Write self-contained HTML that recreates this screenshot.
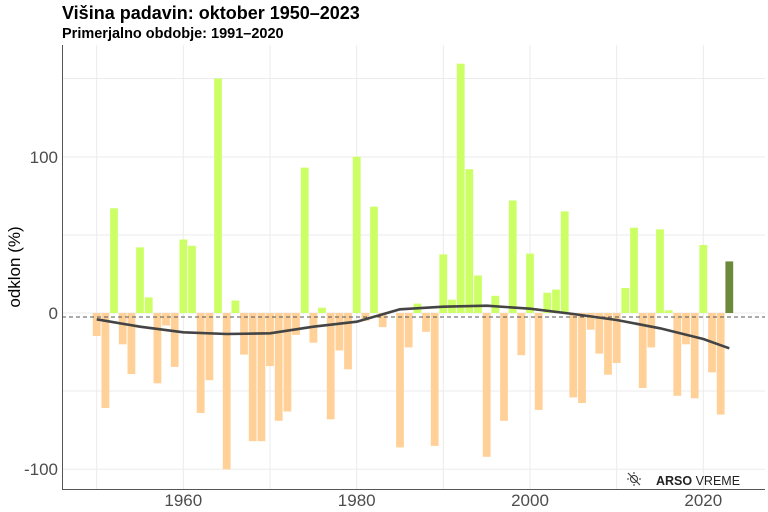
<!DOCTYPE html>
<html><head><meta charset="utf-8"><style>
body{margin:0;background:#fff;}
svg{display:block;font-family:"Liberation Sans",sans-serif;}
.p{fill:#ccff66}.n{fill:#ffd199}
</style></head><body>
<svg width="768" height="512" viewBox="0 0 768 512" xmlns="http://www.w3.org/2000/svg">
<rect width="768" height="512" fill="#fff"/>
<text x="62" y="19" font-size="18" font-weight="bold" fill="#000">Višina padavin: oktober 1950–2023</text>
<text x="62" y="38" font-size="14.5" font-weight="bold" fill="#000">Primerjalno obdobje: 1991–2020</text>
<g stroke="#ebebeb" stroke-width="1">
<line x1="62" x2="765" y1="78.5" y2="78.5"/>
<line x1="62" x2="765" y1="235" y2="235"/>
<line x1="62" x2="765" y1="391" y2="391"/>
<line x1="62" x2="765" y1="157" y2="157"/>
<line x1="62" x2="765" y1="313" y2="313"/>
<line x1="62" x2="765" y1="469.3" y2="469.3"/>
<line x1="96.7" x2="96.7" y1="45" y2="489"/>
<line x1="183.3" x2="183.3" y1="45" y2="489"/>
<line x1="270" x2="270" y1="45" y2="489"/>
<line x1="356.7" x2="356.7" y1="45" y2="489"/>
<line x1="443.3" x2="443.3" y1="45" y2="489"/>
<line x1="530" x2="530" y1="45" y2="489"/>
<line x1="616.7" x2="616.7" y1="45" y2="489"/>
<line x1="703.3" x2="703.3" y1="45" y2="489"/>
</g>
<g>
<rect class="n" x="92.8" y="313" width="7.8" height="23"/>
<rect class="n" x="101.5" y="313" width="7.8" height="95"/>
<rect class="p" x="110.1" y="208.3" width="7.8" height="104.7"/>
<rect class="n" x="118.8" y="313" width="7.8" height="31.3"/>
<rect class="n" x="127.5" y="313" width="7.8" height="61"/>
<rect class="p" x="136.1" y="247.4" width="7.8" height="65.6"/>
<rect class="p" x="144.8" y="297.4" width="7.8" height="15.6"/>
<rect class="n" x="153.5" y="313" width="7.8" height="70.3"/>
<rect class="n" x="162.1" y="313" width="7.8" height="12.5"/>
<rect class="n" x="170.8" y="313" width="7.8" height="53.9"/>
<rect class="p" x="179.5" y="239.5" width="7.8" height="73.5"/>
<rect class="p" x="188.1" y="245.8" width="7.8" height="67.2"/>
<rect class="n" x="196.8" y="313" width="7.8" height="100"/>
<rect class="n" x="205.5" y="313" width="7.8" height="67.2"/>
<rect class="p" x="214.1" y="78.5" width="7.8" height="234.5"/>
<rect class="n" x="222.8" y="313" width="7.8" height="156.3"/>
<rect class="p" x="231.5" y="300.5" width="7.8" height="12.5"/>
<rect class="n" x="240.1" y="313" width="7.8" height="41.6"/>
<rect class="n" x="248.8" y="313" width="7.8" height="128.2"/>
<rect class="n" x="257.5" y="313" width="7.8" height="128.2"/>
<rect class="n" x="266.1" y="313" width="7.8" height="53.1"/>
<rect class="n" x="274.8" y="313" width="7.8" height="107.8"/>
<rect class="n" x="283.5" y="313" width="7.8" height="98.5"/>
<rect class="n" x="292.1" y="313" width="7.8" height="21.9"/>
<rect class="p" x="300.8" y="167.6" width="7.8" height="145.4"/>
<rect class="n" x="309.5" y="313" width="7.8" height="29.7"/>
<rect class="p" x="318.1" y="307.7" width="7.8" height="5.3"/>
<rect class="n" x="326.8" y="313" width="7.8" height="106.3"/>
<rect class="n" x="335.5" y="313" width="7.8" height="37.5"/>
<rect class="n" x="344.1" y="313" width="7.8" height="56.3"/>
<rect class="p" x="352.8" y="156.7" width="7.8" height="156.3"/>
<rect class="n" x="361.5" y="313" width="7.8" height="7.8"/>
<rect class="p" x="370.1" y="206.7" width="7.8" height="106.3"/>
<rect class="n" x="378.8" y="313" width="7.8" height="14.1"/>
<rect class="n" x="396.1" y="313" width="7.8" height="134.4"/>
<rect class="n" x="404.8" y="313" width="7.8" height="34.4"/>
<rect class="p" x="413.5" y="303.6" width="7.8" height="9.4"/>
<rect class="n" x="422.1" y="313" width="7.8" height="18.8"/>
<rect class="n" x="430.8" y="313" width="7.8" height="132.9"/>
<rect class="p" x="439.4" y="254.4" width="7.8" height="58.6"/>
<rect class="p" x="448.1" y="299.7" width="7.8" height="13.3"/>
<rect class="p" x="456.8" y="63.7" width="7.8" height="249.3"/>
<rect class="p" x="465.4" y="169.2" width="7.8" height="143.8"/>
<rect class="p" x="474.1" y="275.5" width="7.8" height="37.5"/>
<rect class="n" x="482.8" y="313" width="7.8" height="143.8"/>
<rect class="p" x="491.4" y="295.8" width="7.8" height="17.2"/>
<rect class="n" x="500.1" y="313" width="7.8" height="107.8"/>
<rect class="p" x="508.8" y="200.5" width="7.8" height="112.5"/>
<rect class="n" x="517.4" y="313" width="7.8" height="42.2"/>
<rect class="p" x="526.1" y="253.6" width="7.8" height="59.4"/>
<rect class="n" x="534.8" y="313" width="7.8" height="96.9"/>
<rect class="p" x="543.4" y="292.7" width="7.8" height="20.3"/>
<rect class="p" x="552.1" y="289.6" width="7.8" height="23.4"/>
<rect class="p" x="560.8" y="211.4" width="7.8" height="101.6"/>
<rect class="n" x="569.4" y="313" width="7.8" height="84.4"/>
<rect class="n" x="578.1" y="313" width="7.8" height="90"/>
<rect class="n" x="586.8" y="313" width="7.8" height="16.7"/>
<rect class="n" x="595.4" y="313" width="7.8" height="40.6"/>
<rect class="n" x="604.1" y="313" width="7.8" height="61.7"/>
<rect class="n" x="612.8" y="313" width="7.8" height="50"/>
<rect class="p" x="621.4" y="288" width="7.8" height="25"/>
<rect class="p" x="630.1" y="227.7" width="7.8" height="85.3"/>
<rect class="n" x="638.8" y="313" width="7.8" height="75"/>
<rect class="n" x="647.4" y="313" width="7.8" height="34.4"/>
<rect class="p" x="656.1" y="229.4" width="7.8" height="83.6"/>
<rect class="p" x="664.8" y="310.3" width="7.8" height="2.7"/>
<rect class="n" x="673.4" y="313" width="7.8" height="82.8"/>
<rect class="n" x="682.1" y="313" width="7.8" height="31.3"/>
<rect class="n" x="690.8" y="313" width="7.8" height="85.3"/>
<rect class="p" x="699.4" y="245" width="7.8" height="68"/>
<rect class="n" x="708.1" y="313" width="7.8" height="59.4"/>
<rect class="n" x="716.8" y="313" width="7.8" height="101.6"/>
<rect x="725.4" y="261.4" width="7.8" height="51.6" fill="#6b8a3a"/>
</g>
<line x1="62" x2="765" y1="317" y2="317" stroke="#555" stroke-width="1" stroke-dasharray="4,3"/>
<polyline fill="none" stroke="#444" stroke-width="2.6" stroke-linejoin="round" points="96.7,319.3 140,326.7 183.3,332.3 226.7,334 270,333.3 313.3,326.7 356.7,321.7 400,309.3 443.3,306.7 486.7,305.7 530,308.7 573.3,314 616.7,320 660,328.3 703.3,339 729.3,348.3"/>
<line x1="62.5" x2="62.5" y1="45" y2="489" stroke="#555" stroke-width="1"/>
<line x1="62" x2="765" y1="489.5" y2="489.5" stroke="#555" stroke-width="1"/>
<g font-size="17" fill="#4d4d4d" text-anchor="end">
<text x="58" y="163">100</text>
<text x="58" y="319">0</text>
<text x="58" y="475">-100</text>
</g>
<g font-size="17" fill="#4d4d4d" text-anchor="middle">
<text x="183.3" y="506">1960</text>
<text x="356.7" y="506">1980</text>
<text x="530" y="506">2000</text>
<text x="703.3" y="506">2020</text>
</g>
<text transform="translate(20,267) rotate(-90)" font-size="17" fill="#000" text-anchor="middle">odklon (%)</text>
<g stroke="#333" stroke-width="1" fill="none">
<circle cx="634" cy="479" r="3.5"/>
<line x1="628" y1="473" x2="640" y2="485"/>
<line x1="634" y1="472" x2="634" y2="474"/><line x1="634" y1="484" x2="634" y2="486"/>
<line x1="627" y1="479" x2="629" y2="479"/><line x1="639" y1="479" x2="641" y2="479"/>
</g>
<text x="656" y="485" font-size="12.5" fill="#222"><tspan font-weight="bold">ARSO</tspan> VREME</text>
</svg>
</body></html>
